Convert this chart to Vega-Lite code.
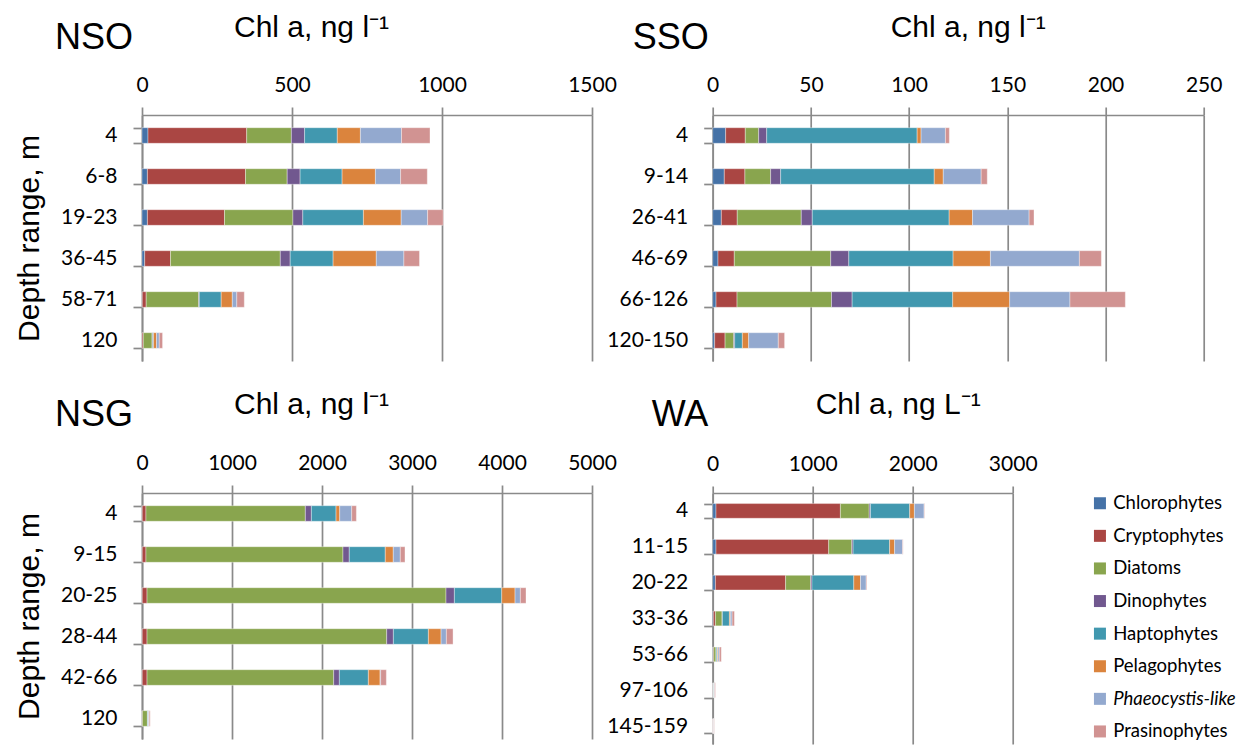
{
  "$schema": "https://vega.github.io/schema/vega-lite/v6.json",
  "background": "white",
  "padding": {"left": 14, "top": 12, "right": 2, "bottom": 2},
  "config": {
    "view": {"stroke": null},
    "axis": {
      "domainColor": "#8a8a8a", "domainWidth": 1.7,
      "tickColor": "#8a8a8a", "tickWidth": 1.7,
      "gridColor": "#8a8a8a", "gridWidth": 1.7,
      "labelColor": "black", "titleColor": "black",
      "labelFont": "Lato", "labelFontSize": 21,
      "titleFont": "Liberation Sans", "titleFontSize": 30, "titleFontWeight": "normal",
      "labelLimit": 0
    },
    "title": {"font": "Liberation Sans", "fontSize": 36, "fontWeight": "normal", "color": "black", "anchor": "start", "frame": "group"}
  },
  "datasets": {
    "chl": [
      {"p": "NSO", "d": "4", "Chlorophytes": 20, "Cryptophytes": 329, "Diatoms": 149, "Dinophytes": 44, "Haptophytes": 109, "Pelagophytes": 77, "Phaeocystis-like": 137, "Prasinophytes": 95},
      {"p": "NSO", "d": "6-8", "Chlorophytes": 18, "Cryptophytes": 327, "Diatoms": 139, "Dinophytes": 43, "Haptophytes": 140, "Pelagophytes": 111, "Phaeocystis-like": 84, "Prasinophytes": 89},
      {"p": "NSO", "d": "19-23", "Chlorophytes": 18, "Cryptophytes": 257, "Diatoms": 228, "Dinophytes": 33, "Haptophytes": 202, "Pelagophytes": 126, "Phaeocystis-like": 88, "Prasinophytes": 52},
      {"p": "NSO", "d": "36-45", "Chlorophytes": 9, "Cryptophytes": 86, "Diatoms": 366, "Dinophytes": 33, "Haptophytes": 143, "Pelagophytes": 144, "Phaeocystis-like": 92, "Prasinophytes": 52},
      {"p": "NSO", "d": "58-71", "Chlorophytes": 1, "Cryptophytes": 13, "Diatoms": 175, "Dinophytes": 2, "Haptophytes": 73, "Pelagophytes": 37, "Phaeocystis-like": 15, "Prasinophytes": 25},
      {"p": "NSO", "d": "120", "Chlorophytes": 0.5, "Cryptophytes": 4, "Diatoms": 29, "Dinophytes": 2, "Haptophytes": 3, "Pelagophytes": 10, "Phaeocystis-like": 9, "Prasinophytes": 11},
      {"p": "SSO", "d": "4", "Chlorophytes": 6.6, "Cryptophytes": 10.0, "Diatoms": 6.8, "Dinophytes": 4.1, "Haptophytes": 76.6, "Pelagophytes": 2.0, "Phaeocystis-like": 12.4, "Prasinophytes": 2.0},
      {"p": "SSO", "d": "9-14", "Chlorophytes": 5.9, "Cryptophytes": 10.5, "Diatoms": 13.1, "Dinophytes": 5.1, "Haptophytes": 78.2, "Pelagophytes": 4.6, "Phaeocystis-like": 19.3, "Prasinophytes": 3.1},
      {"p": "SSO", "d": "26-41", "Chlorophytes": 4.4, "Cryptophytes": 8.1, "Diatoms": 32.6, "Dinophytes": 5.6, "Haptophytes": 69.7, "Pelagophytes": 11.9, "Phaeocystis-like": 28.8, "Prasinophytes": 2.5},
      {"p": "SSO", "d": "46-69", "Chlorophytes": 2.7, "Cryptophytes": 8.3, "Diatoms": 49.1, "Dinophytes": 9.2, "Haptophytes": 53.1, "Pelagophytes": 19.0, "Phaeocystis-like": 45.3, "Prasinophytes": 11.2},
      {"p": "SSO", "d": "66-126", "Chlorophytes": 1.7, "Cryptophytes": 10.7, "Diatoms": 48.1, "Dinophytes": 10.5, "Haptophytes": 51.2, "Pelagophytes": 29.0, "Phaeocystis-like": 30.7, "Prasinophytes": 28.2},
      {"p": "SSO", "d": "120-150", "Chlorophytes": 1.0, "Cryptophytes": 5.3, "Diatoms": 4.4, "Dinophytes": 0.5, "Haptophytes": 3.9, "Pelagophytes": 3.2, "Phaeocystis-like": 15.1, "Prasinophytes": 3.2},
      {"p": "NSG", "d": "4", "Chlorophytes": 3, "Cryptophytes": 41, "Diatoms": 1771, "Dinophytes": 67, "Haptophytes": 274, "Pelagophytes": 41, "Phaeocystis-like": 133, "Prasinophytes": 52},
      {"p": "NSG", "d": "9-15", "Chlorophytes": 3, "Cryptophytes": 41, "Diatoms": 2189, "Dinophytes": 70, "Haptophytes": 400, "Pelagophytes": 89, "Phaeocystis-like": 78, "Prasinophytes": 52},
      {"p": "NSG", "d": "20-25", "Chlorophytes": 3, "Cryptophytes": 53, "Diatoms": 3322, "Dinophytes": 93, "Haptophytes": 526, "Pelagophytes": 148, "Phaeocystis-like": 59, "Prasinophytes": 63},
      {"p": "NSG", "d": "28-44", "Chlorophytes": 3, "Cryptophytes": 53, "Diatoms": 2663, "Dinophytes": 74, "Haptophytes": 389, "Pelagophytes": 141, "Phaeocystis-like": 59, "Prasinophytes": 74},
      {"p": "NSG", "d": "42-66", "Chlorophytes": 3, "Cryptophytes": 53, "Diatoms": 2074, "Dinophytes": 63, "Haptophytes": 322, "Pelagophytes": 130, "Phaeocystis-like": 7, "Prasinophytes": 63},
      {"p": "NSG", "d": "120", "Chlorophytes": 1, "Cryptophytes": 4, "Diatoms": 55, "Dinophytes": 2, "Haptophytes": 7, "Pelagophytes": 4, "Phaeocystis-like": 7, "Prasinophytes": 11},
      {"p": "WA", "d": "4", "Chlorophytes": 33, "Cryptophytes": 1244, "Diatoms": 288, "Dinophytes": 13, "Haptophytes": 392, "Pelagophytes": 47, "Phaeocystis-like": 97, "Prasinophytes": 5},
      {"p": "WA", "d": "11-15", "Chlorophytes": 33, "Cryptophytes": 1127, "Diatoms": 231, "Dinophytes": 13, "Haptophytes": 365, "Pelagophytes": 50, "Phaeocystis-like": 80, "Prasinophytes": 5},
      {"p": "WA", "d": "20-22", "Chlorophytes": 27, "Cryptophytes": 702, "Diatoms": 251, "Dinophytes": 13, "Haptophytes": 418, "Pelagophytes": 67, "Phaeocystis-like": 57, "Prasinophytes": 7},
      {"p": "WA", "d": "33-36", "Chlorophytes": 7, "Cryptophytes": 20, "Diatoms": 67, "Dinophytes": 3, "Haptophytes": 70, "Pelagophytes": 10, "Phaeocystis-like": 17, "Prasinophytes": 23},
      {"p": "WA", "d": "53-66", "Chlorophytes": 3, "Cryptophytes": 7, "Diatoms": 23, "Dinophytes": 3, "Haptophytes": 10, "Pelagophytes": 7, "Phaeocystis-like": 13, "Prasinophytes": 20},
      {"p": "WA", "d": "97-106", "Chlorophytes": 2, "Cryptophytes": 3, "Diatoms": 5, "Dinophytes": 1, "Haptophytes": 3, "Pelagophytes": 2, "Phaeocystis-like": 4, "Prasinophytes": 7},
      {"p": "WA", "d": "145-159", "Chlorophytes": 1, "Cryptophytes": 2, "Diatoms": 2, "Dinophytes": 1, "Haptophytes": 2, "Pelagophytes": 1, "Phaeocystis-like": 2, "Prasinophytes": 4}
    ]
  },
  "bounds": "flush",
  "columns": 2,
  "spacing": {"row": 132, "column": 120.7},
  "resolve": {"scale": {"color": "independent"}, "legend": {"color": "independent"}},
  "concat": [
    {
      "title": {"text": "NSO", "dx": -87, "dy": 49},
      "width": 450, "height": 246,
      "data": {"name": "chl"},
      "transform": [
        {"filter": "datum.p === 'NSO'"},
        {"fold": ["Chlorophytes", "Cryptophytes", "Diatoms", "Dinophytes", "Haptophytes", "Pelagophytes", "Phaeocystis-like", "Prasinophytes"], "as": ["g", "v"]}
      ],
      "mark": {"type": "bar", "stroke": "white", "strokeWidth": 0.6, "strokeOpacity": 0.6},
      "encoding": {
        "x": {"field": "v", "type": "quantitative", "stack": "zero",
          "scale": {"domain": [0, 1500], "nice": false},
          "axis": {"orient": "top", "values": [0, 500, 1000, 1500], "format": "d", "grid": true, "tickSize": 8, "labelPadding": 12, "labelFlush": false,
            "title": "Chl a, ng l⁻¹", "titleX": 169, "titleY": -79, "titleBaseline": "alphabetic", "titleAlign": "center"}},
        "y": {"field": "d", "type": "nominal",
          "scale": {"domain": ["4", "6-8", "19-23", "36-45", "58-71", "120"], "paddingInner": 0.62, "paddingOuter": 0.31},
          "axis": {"title": "Depth range, m", "titlePadding": 16, "labelPadding": 16, "tickSize": 9, "tickBand": "extent"}},
        "color": {"field": "g", "type": "nominal",
          "scale": {"domain": ["Chlorophytes", "Cryptophytes", "Diatoms", "Dinophytes", "Haptophytes", "Pelagophytes", "Phaeocystis-like", "Prasinophytes"],
            "range": ["#4572A7", "#AA4643", "#89A54E", "#71588F", "#4198AF", "#DB843D", "#93A9CF", "#D19392"]},
          "legend": null}
      }
    },
    {
      "title": {"text": "SSO", "dx": -80, "dy": 49},
      "width": 491, "height": 246,
      "data": {"name": "chl"},
      "transform": [
        {"filter": "datum.p === 'SSO'"},
        {"fold": ["Chlorophytes", "Cryptophytes", "Diatoms", "Dinophytes", "Haptophytes", "Pelagophytes", "Phaeocystis-like", "Prasinophytes"], "as": ["g", "v"]}
      ],
      "mark": {"type": "bar", "stroke": "white", "strokeWidth": 0.6, "strokeOpacity": 0.6},
      "encoding": {
        "x": {"field": "v", "type": "quantitative", "stack": "zero",
          "scale": {"domain": [0, 250], "nice": false},
          "axis": {"orient": "top", "values": [0, 50, 100, 150, 200, 250], "format": "d", "grid": true, "tickSize": 8, "labelPadding": 12, "labelFlush": false,
            "title": "Chl a, ng l⁻¹", "titleX": 255, "titleY": -79, "titleBaseline": "alphabetic", "titleAlign": "center"}},
        "y": {"field": "d", "type": "nominal",
          "scale": {"domain": ["4", "9-14", "26-41", "46-69", "66-126", "120-150"], "paddingInner": 0.62, "paddingOuter": 0.31},
          "axis": {"title": null, "labelPadding": 16, "tickSize": 9, "tickBand": "extent"}},
        "color": {"field": "g", "type": "nominal",
          "scale": {"domain": ["Chlorophytes", "Cryptophytes", "Diatoms", "Dinophytes", "Haptophytes", "Pelagophytes", "Phaeocystis-like", "Prasinophytes"],
            "range": ["#4572A7", "#AA4643", "#89A54E", "#71588F", "#4198AF", "#DB843D", "#93A9CF", "#D19392"]},
          "legend": null}
      }
    },
    {
      "title": {"text": "NSG", "dx": -87, "dy": 49},
      "width": 450, "height": 246,
      "data": {"name": "chl"},
      "transform": [
        {"filter": "datum.p === 'NSG'"},
        {"fold": ["Chlorophytes", "Cryptophytes", "Diatoms", "Dinophytes", "Haptophytes", "Pelagophytes", "Phaeocystis-like", "Prasinophytes"], "as": ["g", "v"]}
      ],
      "mark": {"type": "bar", "stroke": "white", "strokeWidth": 0.6, "strokeOpacity": 0.6},
      "encoding": {
        "x": {"field": "v", "type": "quantitative", "stack": "zero",
          "scale": {"domain": [0, 5000], "nice": false},
          "axis": {"orient": "top", "values": [0, 1000, 2000, 3000, 4000, 5000], "format": "d", "grid": true, "tickSize": 8, "labelPadding": 12, "labelFlush": false,
            "title": "Chl a, ng l⁻¹", "titleX": 169, "titleY": -80, "titleBaseline": "alphabetic", "titleAlign": "center"}},
        "y": {"field": "d", "type": "nominal",
          "scale": {"domain": ["4", "9-15", "20-25", "28-44", "42-66", "120"], "paddingInner": 0.62, "paddingOuter": 0.31},
          "axis": {"title": "Depth range, m", "titlePadding": 16, "labelPadding": 16, "tickSize": 9, "tickBand": "extent"}},
        "color": {"field": "g", "type": "nominal",
          "scale": {"domain": ["Chlorophytes", "Cryptophytes", "Diatoms", "Dinophytes", "Haptophytes", "Pelagophytes", "Phaeocystis-like", "Prasinophytes"],
            "range": ["#4572A7", "#AA4643", "#89A54E", "#71588F", "#4198AF", "#DB843D", "#93A9CF", "#D19392"]},
          "legend": null}
      }
    },
    {
      "title": {"text": "WA", "dx": -61, "dy": 49},
      "width": 300, "height": 251,
      "data": {"name": "chl"},
      "transform": [
        {"filter": "datum.p === 'WA'"},
        {"fold": ["Chlorophytes", "Cryptophytes", "Diatoms", "Dinophytes", "Haptophytes", "Pelagophytes", "Phaeocystis-like", "Prasinophytes"], "as": ["g", "v"]}
      ],
      "mark": {"type": "bar", "stroke": "white", "strokeWidth": 0.6, "strokeOpacity": 0.6},
      "encoding": {
        "x": {"field": "v", "type": "quantitative", "stack": "zero",
          "scale": {"domain": [0, 3000], "nice": false},
          "axis": {"orient": "top", "values": [0, 1000, 2000, 3000], "format": "d", "grid": true, "tickSize": 7, "labelPadding": 12, "labelFlush": false,
            "title": "Chl a, ng L⁻¹", "titleX": 185, "titleY": -80, "titleBaseline": "alphabetic", "titleAlign": "center"}},
        "y": {"field": "d", "type": "nominal",
          "scale": {"domain": ["4", "11-15", "20-22", "33-36", "53-66", "97-106", "145-159"], "paddingInner": 0.59, "paddingOuter": 0.295},
          "axis": {"title": null, "labelPadding": 16, "tickSize": 9, "tickBand": "extent"}},
        "color": {"field": "g", "type": "nominal",
          "scale": {"domain": ["Chlorophytes", "Cryptophytes", "Diatoms", "Dinophytes", "Haptophytes", "Pelagophytes", "Phaeocystis-like", "Prasinophytes"],
            "range": ["#4572A7", "#AA4643", "#89A54E", "#71588F", "#4198AF", "#DB843D", "#93A9CF", "#D19392"]},
          "legend": {"orient": "none", "legendX": 378, "legendY": 1, "title": null, "symbolType": "square", "symbolSize": 144, "symbolStrokeWidth": 0,
            "labelFont": "Lato", "labelFontSize": 18.5, "labelColor": "black", "labelOffset": 4, "rowPadding": 13.6, "labelLimit": 0,
            "labelFontStyle": {"expr": "datum.label == 'Phaeocystis-like' ? 'italic' : 'normal'"}}}
      }
    }
  ]
}
